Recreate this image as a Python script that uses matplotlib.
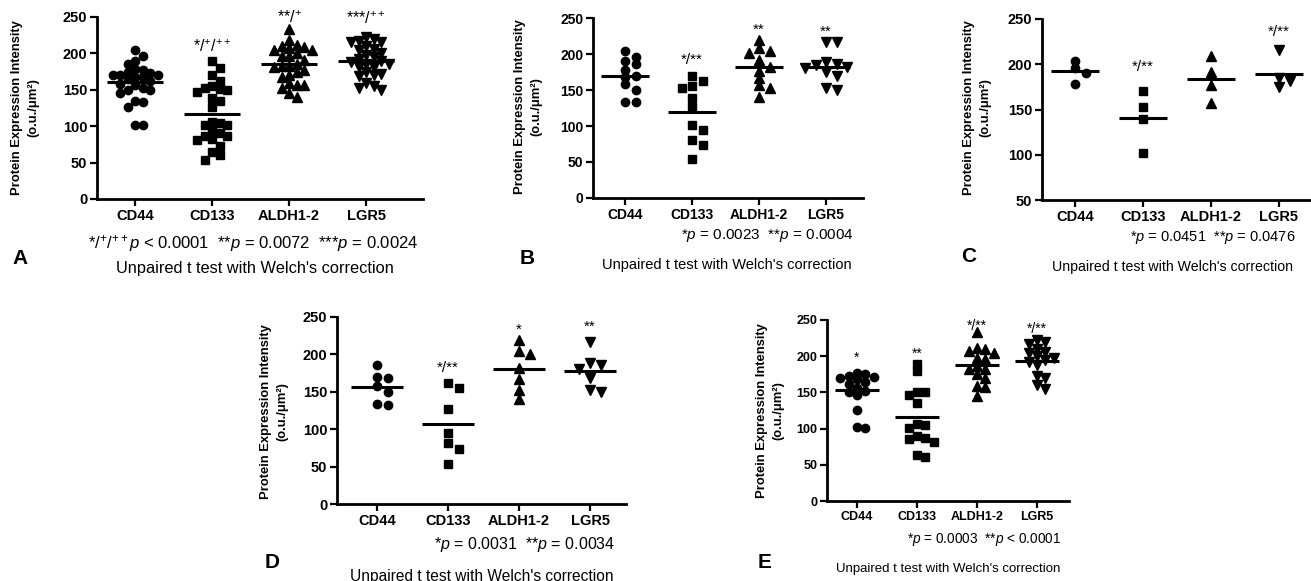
import numpy as np
import matplotlib

matplotlib.use("Agg")
import matplotlib.pyplot as plt

W, H = 1311, 581
plt.rcParams["font.family"] = ["Liberation Sans", "DejaVu Sans"]
plt.rcParams["mathtext.fontset"] = "custom"
plt.rcParams["mathtext.rm"] = "Liberation Sans"
plt.rcParams["mathtext.it"] = "Liberation Sans:italic"
plt.rcParams["mathtext.bf"] = "Liberation Sans:bold"

categories = ["CD44", "CD133", "ALDH1-2", "LGR5"]

# panel C (n=4)
cd44_c = [196, 204, 190, 178]
cd133_c = [170, 153, 139, 102]
aldh_c = [209, 191, 177, 157]
lgr5_c = [216, 185, 182, 175]

# panel D (n=7)
cd44_d = [186, 168, 170, 158, 150, 133, 134]
cd133_d = [162, 155, 127, 95, 81, 73, 54]
aldh_d = [219, 204, 201, 182, 167, 153, 140]
lgr5_d = [216, 181, 186, 189, 169, 150, 153]

# panel E (n=15)
cd44_e = [177, 175, 173, 171, 170, 168, 165, 162, 156, 152, 150, 146, 126, 101, 102]
cd133_e = [189, 180, 147, 150, 151, 135, 106, 101, 105, 90, 86, 82, 87, 61, 64]
aldh_e = [233, 212, 210, 207, 205, 197, 196, 186, 183, 183, 175, 170, 159, 157, 145]
lgr5_e = [222, 220, 217, 210, 206, 204, 200, 198, 195, 192, 188, 172, 170, 160, 155]

# panel B is C + D, panel A is B + E (same cases pooled)
cd44_b = cd44_c + cd44_d
cd133_b = cd133_c + cd133_d
aldh_b = aldh_c + aldh_d
lgr5_b = lgr5_c + lgr5_d

cd44_a = cd44_b + cd44_e
cd133_a = cd133_b + cd133_e
aldh_a = aldh_b + aldh_e
lgr5_a = lgr5_b + lgr5_e

stars_a = [None, "*/$^{+}$/$^{++}$", "**/$^{+}$", "***/$^{++}$"]
stars_b = [None, "*/**", "**", "**"]
stars_c = [None, "*/**", None, "*/**"]
stars_d = [None, "*/**", "*", "**"]
stars_e = ["*", "**", "*/**", "*/**"]

star_y_a = [None, 214, 255, 253]
star_y_b = [None, 198, 240, 238]
star_y_c = [None, 202, None, 241]
star_y_d = [None, 188, 240, 244]
star_y_e = [204, 209, 247, 243]

ptext_a = r"*/$^{+}$/$^{++}$$\mathit{p}$ < 0.0001  **$\mathit{p}$ = 0.0072  ***$\mathit{p}$ = 0.0024"
ptext_b = r"*$\mathit{p}$ = 0.0023  **$\mathit{p}$ = 0.0004"
ptext_c = r"*$\mathit{p}$ = 0.0451  **$\mathit{p}$ = 0.0476"
ptext_d = r"*$\mathit{p}$ = 0.0031  **$\mathit{p}$ = 0.0034"
ptext_e = r"*$\mathit{p}$ = 0.0003  **$\mathit{p}$ < 0.0001"

test_label = "Unpaired t test with Welch's correction"
ylabel = "Protein Expression Intensity\n(o.u./\u03bcm\u00b2)"

markers = ["o", "s", "^", "v"]
msizes = [6.0, 5.8, 6.8, 6.8]

# layout in pixels: axes box, first category x, category spacing, text anchors
panels = [
    dict(letter="A", data=[cd44_a, cd133_a, aldh_a, lgr5_a], stars=stars_a, star_y=star_y_a,
         ptext=ptext_a, box=(97, 423, 17, 199), ylim=(0, 250), x0=135, dx=77, step=7.5, gap=8,
         tick_fs=10.5, star_fs=11.5, ylab=(25, 108), pt=(253, 243, 12), let=(20, 258),
         ut=(255, 268, 11.8)),
    dict(letter="B", data=[cd44_b, cd133_b, aldh_b, lgr5_b], stars=stars_b, star_y=star_y_b,
         ptext=ptext_b, box=(593, 863, 18, 198), ylim=(0, 250), x0=625, dx=67, step=10.5, gap=6.5,
         tick_fs=10, star_fs=11, ylab=(528, 107), pt=(767, 236, 11), let=(527, 258),
         ut=(727, 265, 10.5)),
    dict(letter="C", data=[cd44_c, cd133_c, aldh_c, lgr5_c], stars=stars_c, star_y=star_y_c,
         ptext=ptext_c, box=(1042, 1311, 19, 200), ylim=(50, 250), x0=1075, dx=68, step=11, gap=6.5,
         tick_fs=10.5, star_fs=11, ylab=(977, 108), pt=(1213, 238, 10.5), let=(969, 257),
         ut=(1172, 267, 10.2)),
    dict(letter="D", data=[cd44_d, cd133_d, aldh_d, lgr5_d], stars=stars_d, star_y=star_y_d,
         ptext=ptext_d, box=(337, 626, 317, 504), ylim=(0, 250), x0=377, dx=71, step=11, gap=6.5,
         tick_fs=10.5, star_fs=11, ylab=(274, 412), pt=(525, 545, 11.5), let=(272, 562),
         ut=(482, 576, 11.2)),
    dict(letter="E", data=[cd44_e, cd133_e, aldh_e, lgr5_e], stars=stars_e, star_y=star_y_e,
         ptext=ptext_e, box=(827, 1069, 320, 501), ylim=(0, 250), x0=857, dx=60, step=8.3, gap=6.0,
         tick_fs=9, star_fs=10, ylab=(770, 411), pt=(984, 540, 9.8), let=(765, 563),
         ut=(948, 569, 9.5)),
]


def fx(px):
    return px / W


def fy(py):
    return 1 - py / H


def swarm_offsets(ax, values, step_px, gap_px, max_col=3):
    # column scatter: nearest free column, else the least crowded one
    to_px = ax.transData.transform
    order = [0]
    for k in range(1, max_col + 1):
        order += [k, -k]
    placed = []
    cols = []
    for v in values:
        ypx = to_px((0, v))[1]
        best, best_d = 0, -1.0
        for k in order:
            d = min([abs(ypx - py) for c, py in placed if c == k] or [1e9])
            if d >= gap_px:
                best = k
                break
            if d > best_d + 0.5:
                best, best_d = k, d
        placed.append((best, ypx))
        cols.append(best)
    px_per_unit = to_px((1, 0))[0] - to_px((0, 0))[0]
    return np.array(cols) * step_px / px_per_unit


fig = plt.figure(figsize=(W / 100, H / 100), dpi=100)

for p in panels:
    l, r, t, b = p["box"]
    ax = fig.add_axes([fx(l), fy(b), (r - l) / W, (b - t) / H])
    ax.set_xlim((l - p["x0"]) / p["dx"], (r - p["x0"]) / p["dx"])
    ax.set_ylim(*p["ylim"])
    for s in ["top", "right"]:
        ax.spines[s].set_visible(False)
    for s in ["left", "bottom"]:
        ax.spines[s].set_linewidth(2)

    for i, vals in enumerate(p["data"]):
        order = sorted(vals, reverse=True)
        offs = swarm_offsets(ax, order, p["step"], p["gap"])
        ax.plot(i + offs, order, linestyle="none", marker=markers[i], ms=msizes[i],
                color="black", clip_on=False)
        ax.hlines(np.mean(vals), i - 0.36, i + 0.36, color="black", lw=2.2, zorder=3)
        if p["stars"][i]:
            fs = p["star_fs"]
            ax.annotate(p["stars"][i], (i, p["star_y"][i]), xytext=(0, -0.58 * fs),
                        textcoords="offset points", ha="center", va="baseline",
                        fontsize=fs, annotation_clip=False)

    ax.set_xticks(range(len(categories)))
    ax.set_xticklabels(categories, fontweight="bold")
    yt = np.arange(p["ylim"][0], 251, 50)
    ax.set_yticks(yt)
    ax.set_yticklabels([str(v) for v in yt], fontweight="bold")
    ax.tick_params(axis="both", direction="out", length=5, width=1.6,
                   labelsize=p["tick_fs"], pad=2)

    fig.text(fx(p["ylab"][0]), fy(p["ylab"][1]), ylabel, rotation=90, ha="center",
             va="center", fontsize=9.4, fontweight="bold", linespacing=1.45,
             multialignment="center")
    fig.text(fx(p["pt"][0]), fy(p["pt"][1]), p["ptext"], ha="center", va="center",
             fontsize=p["pt"][2])
    fig.text(fx(p["let"][0]), fy(p["let"][1]), p["letter"], ha="center", va="center",
             fontsize=15, fontweight="bold")
    fig.text(fx(p["ut"][0]), fy(p["ut"][1]), test_label, ha="center", va="center",
             fontsize=p["ut"][2])

fig.savefig("out.png", dpi=100)
